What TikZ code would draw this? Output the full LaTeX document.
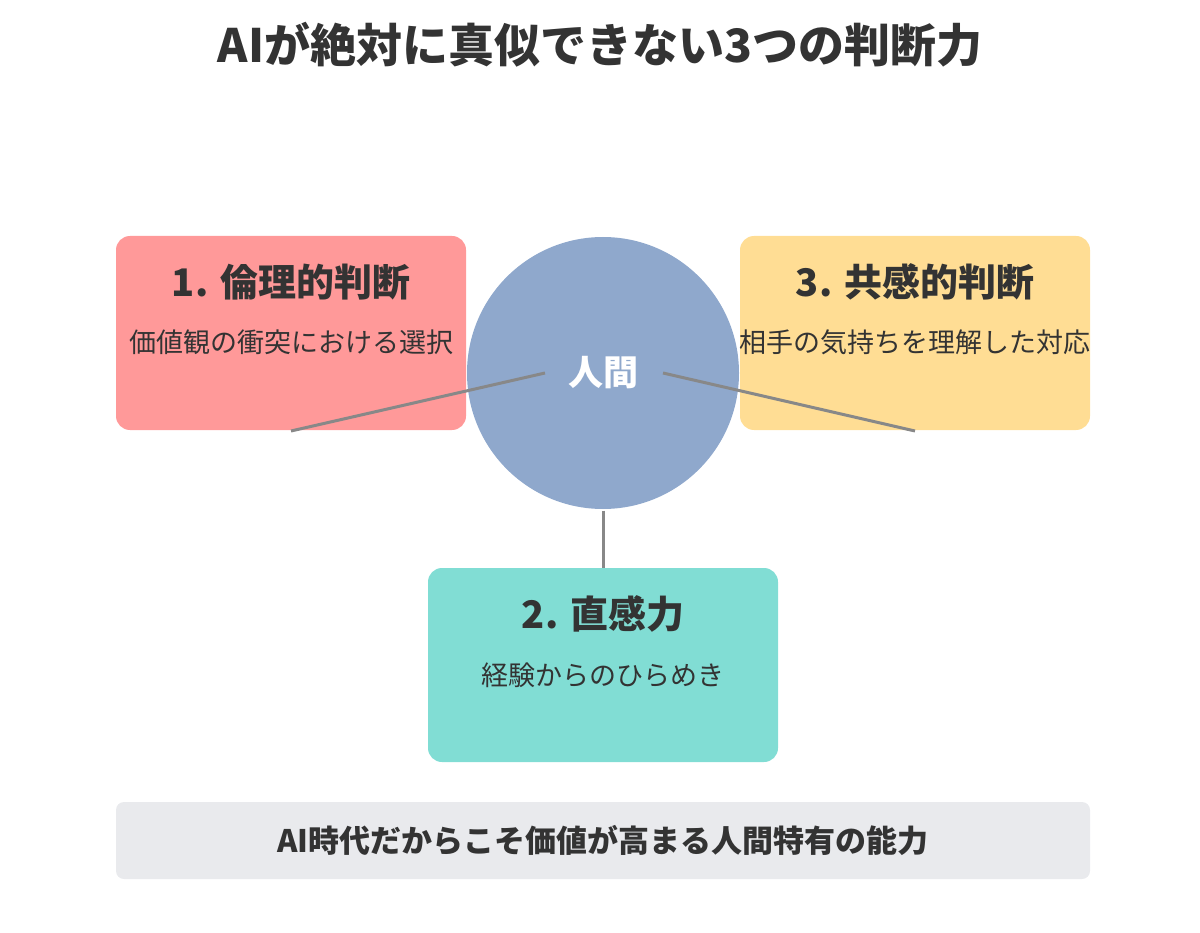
\documentclass[tikz,border=0pt]{standalone}
\usepackage{fontspec}
\setmainfont{Noto Sans CJK JP}
\definecolor{txt}{HTML}{333333}
\definecolor{cred}{HTML}{FF9999}
\definecolor{cyel}{HTML}{FFDD94}
\definecolor{cteal}{HTML}{81DDD4}
\definecolor{cblue}{HTML}{8FA8CC}
\definecolor{cgray}{HTML}{E9EAED}
\definecolor{cline}{HTML}{888888}
\begin{document}
\begin{tikzpicture}[x=1pt,y=-1pt,
  box/.style={rounded corners=14pt},
  ttl/.style={font=\fontsize{38}{42}\selectfont\bfseries,text=txt},
  sub/.style={font=\fontsize{27}{31}\selectfont,text=txt},
  conn/.style={draw=cline,line width=3pt}]
\useasboundingbox (0,0) rectangle (1200,933);
\node[font=\fontsize{46}{52}\selectfont\bfseries,text=txt] (title) at (600,45) {AIが絶対に真似できない3つの判断力};
\fill[box,cred] (116,236) rectangle (466,430);
\fill[box,cyel] (740,236) rectangle (1090,430);
\fill[box,cteal] (428,568) rectangle (778,762);
\fill[box,rounded corners=8pt,cgray] (116,802) rectangle (1090,879);
\fill[cblue] (603,373) circle (136);
\coordinate (l1) at (291,431);
\coordinate (l3) at (915,431);
\coordinate (l2) at (603,568);
\node[font=\fontsize{35}{40}\selectfont\bfseries,text=white,inner sep=0pt,minimum width=118pt] (human) at (603,373) {人間};
\node[inner sep=0pt] (bot) at (603,510) {};
\draw[conn] (545,373) -- (l1);
\draw[conn] (663,373) -- (l3);
\draw[conn] (bot) -- (l2);
\node[ttl] (t1) at (291,282) {1. 倫理的判断};
\node[sub] (s1) at (291,342) {価値観の衝突における選択};
\node[ttl] (t3) at (915,282) {3. 共感的判断};
\node[sub] (s3) at (915,342) {相手の気持ちを理解した対応};
\node[ttl] (t2) at (603,614) {2. 直感力};
\node[sub] (s2) at (603,675) {経験からのひらめき};
\node[font=\fontsize{31}{36}\selectfont\bfseries,text=txt] (foot) at (603,840) {AI時代だからこそ価値が高まる人間特有の能力};
\end{tikzpicture}
\end{document}
